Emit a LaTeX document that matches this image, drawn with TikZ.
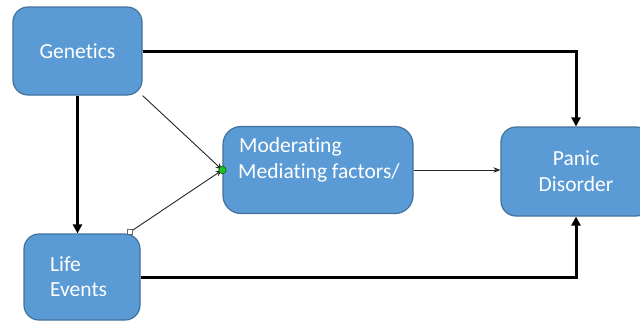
\documentclass[tikz,border=0pt]{standalone}
\usepackage{fontspec}
\setmainfont{Carlito}[Ligatures={NoCommon}]
\usetikzlibrary{arrows.meta}
\definecolor{boxfill}{HTML}{5B9BD5}
\definecolor{boxline}{HTML}{41719C}
\definecolor{handle}{HTML}{1FC11F}
\begin{document}
\begin{tikzpicture}[x=1pt,y=-1pt,
  box/.style={draw=boxline, line width=1.2pt, fill=boxfill, rounded corners=15pt, inner sep=0pt},
  lbl/.style={text=white, font=\fontsize{21.5}{26}\selectfont, inner sep=0pt},
  thick link/.style={line width=3pt, -{Triangle[length=9pt,width=9pt]}},
  thin link/.style={line width=0.9pt, draw=black!85, -{Stealth[length=7pt,width=5.5pt]}}]
\useasboundingbox (0,0) rectangle (640,322);

% boxes
\node[box, minimum width=129pt, minimum height=88pt] (gen) at (77.5,51) {};
\node[box, minimum width=116pt, minimum height=86pt] (life) at (82,277) {};
\node[box, minimum width=190pt, minimum height=87pt, rounded corners=18pt] (mod) at (318,170) {};
\node[box, minimum width=150pt, minimum height=89pt] (panic) at (576,171.5) {};

% labels
\node[lbl, anchor=base] (genT) at (77.5,58) {Genetics};
\node[lbl, anchor=base west] (lifeT1) at (50,271) {Life};
\node[lbl, anchor=base west] (lifeT2) at (50,296) {Events};
\node[lbl, anchor=base west] (modT1) at (239,152) {Moderating};
\node[lbl, anchor=base west] (modT2) at (238,178) {Mediating factors/};
\node[lbl, anchor=base] (panicT1) at (576,165) {Panic};
\node[lbl, anchor=base] (panicT2) at (576,191) {Disorder};

% direct paths
\draw[thick link] (gen.east) -| (panic.north);
\draw[thick link] (gen.south) -- (gen.south |- life.north);
\draw[thick link] (life.east) -| (panic.south);

% paths through the moderating box
\coordinate (lifeTip) at (130,232);
\draw[thin link] (gen.south east) -- (mod.west);
\draw[thin link] (lifeTip) -- (mod.west);
\draw[thin link] (mod.east) -- (mod.east -| panic.west);

% connection handles
\node[circle, fill=handle, draw=green!35!black, line width=0.5pt, inner sep=0pt, minimum size=7.5pt] (dot) at (mod.west) {};
\node[rectangle, fill=white, draw=black!60, line width=0.5pt, inner sep=0pt, minimum size=5pt] (sq) at (lifeTip) {};
\end{tikzpicture}
\end{document}
